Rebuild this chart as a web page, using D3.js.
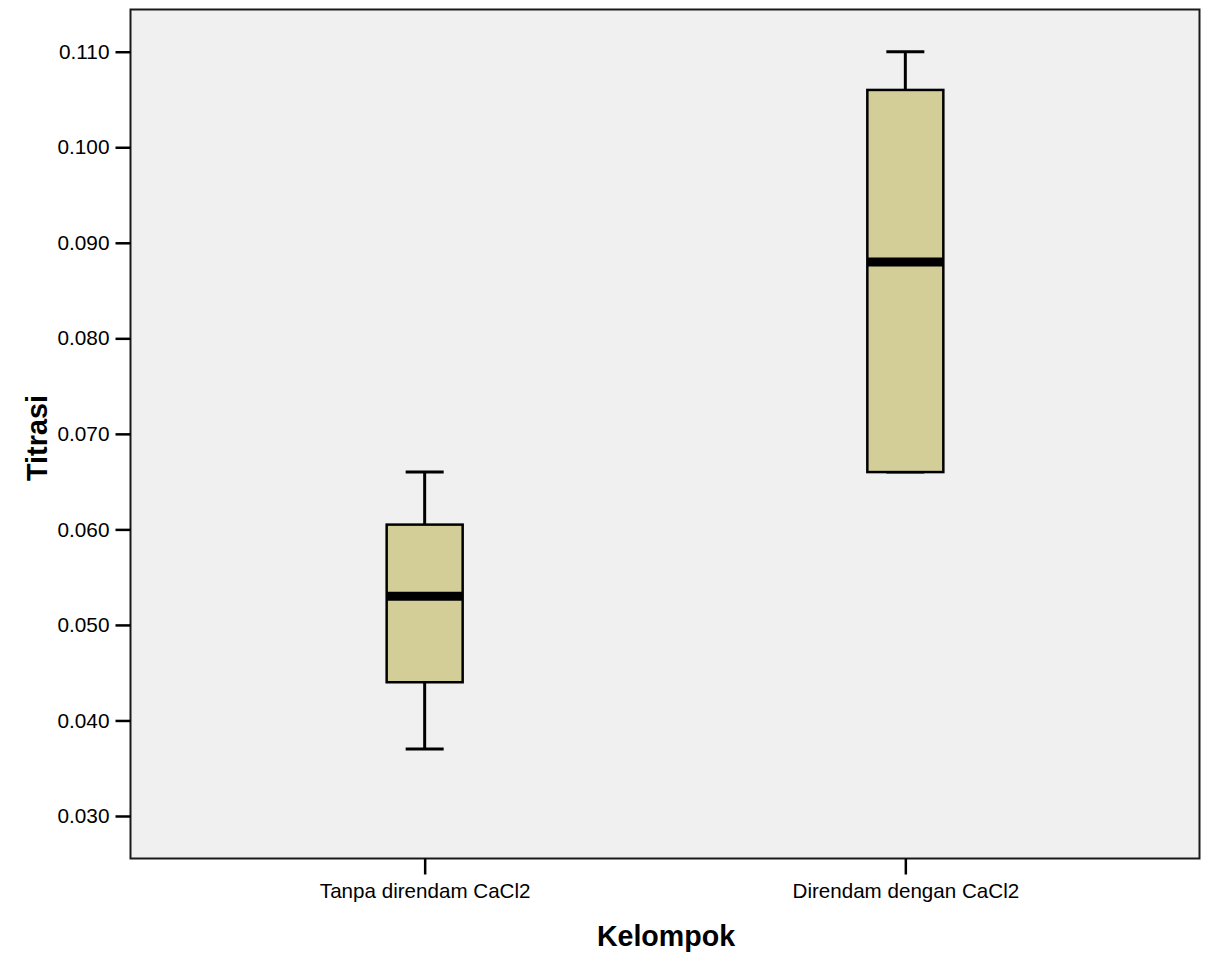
<!DOCTYPE html>
<html>
<head>
<meta charset="utf-8">
<script src="https://cdn.jsdelivr.net/npm/d3@7"></script>
<style>
  html, body { margin: 0; padding: 0; background: #ffffff; }
  svg { display: block; }
  text { font-family: "Liberation Sans", Arial, sans-serif; fill: #000; }
</style>
</head>
<body>
<svg id="chart" width="1208" height="957"></svg>
<script>
// Groups and their five-number summaries
const categories = ["Tanpa direndam CaCl2", "Direndam dengan CaCl2"];
const whiskerLow  = [0.037, 0.066];
const quartile1   = [0.044, 0.066];
const medians     = [0.053, 0.088];
const quartile3   = [0.0605, 0.106];
const whiskerHigh = [0.066, 0.110];

const yTicks = [0.030, 0.040, 0.050, 0.060, 0.070, 0.080, 0.090, 0.100, 0.110];
const xTitle = "Kelompok";
const yTitle = "Titrasi";

const plot = { left: 130.5, top: 9.5, right: 1199.5, bottom: 858.5 };

const svg = d3.select("#chart");

const y = d3.scaleLinear()
  .domain([0.02555, 0.11442])
  .range([plot.bottom, plot.top]);

const x = d3.scalePoint()
  .domain(categories)
  .range([plot.left, plot.right])
  .padding(0.612);

const boxWidth = 76;
const capWidth = 38;

// plot background
svg.append("rect")
  .attr("x", plot.left).attr("y", plot.top)
  .attr("width", plot.right - plot.left)
  .attr("height", plot.bottom - plot.top)
  .attr("fill", "#f0f0f0");

// boxes
const rows = categories.map((c, i) => ({
  cat: c, lo: whiskerLow[i], q1: quartile1[i], med: medians[i],
  q3: quartile3[i], hi: whiskerHigh[i]
}));

const g = svg.append("g");
rows.forEach(d => {
  const cx = x(d.cat);
  // whiskers
  g.append("line")
    .attr("x1", cx).attr("x2", cx)
    .attr("y1", y(d.q3)).attr("y2", y(d.hi))
    .attr("stroke", "#000").attr("stroke-width", 3);
  g.append("line")
    .attr("x1", cx).attr("x2", cx)
    .attr("y1", y(d.q1)).attr("y2", y(d.lo))
    .attr("stroke", "#000").attr("stroke-width", 3);
  g.append("line")
    .attr("x1", cx - capWidth / 2).attr("x2", cx + capWidth / 2)
    .attr("y1", y(d.hi)).attr("y2", y(d.hi))
    .attr("stroke", "#000").attr("stroke-width", 3);
  g.append("line")
    .attr("x1", cx - capWidth / 2).attr("x2", cx + capWidth / 2)
    .attr("y1", y(d.lo)).attr("y2", y(d.lo))
    .attr("stroke", "#000").attr("stroke-width", 3);
  // interquartile box
  g.append("rect")
    .attr("x", cx - boxWidth / 2)
    .attr("y", y(d.q3))
    .attr("width", boxWidth)
    .attr("height", y(d.q1) - y(d.q3))
    .attr("fill", "#d3ce97")
    .attr("stroke", "#000").attr("stroke-width", 2.5);
  // median
  g.append("line")
    .attr("x1", cx - boxWidth / 2).attr("x2", cx + boxWidth / 2)
    .attr("y1", y(d.med)).attr("y2", y(d.med))
    .attr("stroke", "#000").attr("stroke-width", 9);
});

// frame
svg.append("rect")
  .attr("x", plot.left).attr("y", plot.top)
  .attr("width", plot.right - plot.left)
  .attr("height", plot.bottom - plot.top)
  .attr("fill", "none")
  .attr("stroke", "#1a1a1a").attr("stroke-width", 2);

// y axis
const yAxis = svg.append("g")
  .attr("transform", `translate(${plot.left},0)`)
  .call(d3.axisLeft(y).tickValues(yTicks).tickFormat(d3.format(".3f"))
    .tickSize(15).tickPadding(6));
yAxis.select(".domain").remove();
yAxis.selectAll(".tick line").attr("stroke", "#000").attr("stroke-width", 2.5);
yAxis.selectAll(".tick text")
  .attr("font-size", 20.8)
  .attr("font-family", "Liberation Sans, Arial, sans-serif")
  .attr("fill", "#000");

// x axis
const xAxis = svg.append("g")
  .attr("transform", `translate(0,${plot.bottom})`)
  .call(d3.axisBottom(x).tickSize(16).tickPadding(9));
xAxis.select(".domain").remove();
xAxis.selectAll(".tick line").attr("stroke", "#000").attr("stroke-width", 2.5);
xAxis.selectAll(".tick text")
  .attr("font-size", 20.6)
  .attr("font-family", "Liberation Sans, Arial, sans-serif")
  .attr("fill", "#000");

// axis titles
svg.append("text")
  .attr("x", (plot.left + plot.right) / 2 + 1)
  .attr("y", 946)
  .attr("text-anchor", "middle")
  .attr("font-size", 28.6)
  .attr("font-weight", "bold")
  .text(xTitle);

svg.append("text")
  .attr("transform", `translate(47,${(plot.top + plot.bottom) / 2 + 4}) rotate(-90)`)
  .attr("text-anchor", "middle")
  .attr("font-size", 28.8)
  .attr("font-weight", "bold")
  .text(yTitle);
</script>
</body>
</html>
